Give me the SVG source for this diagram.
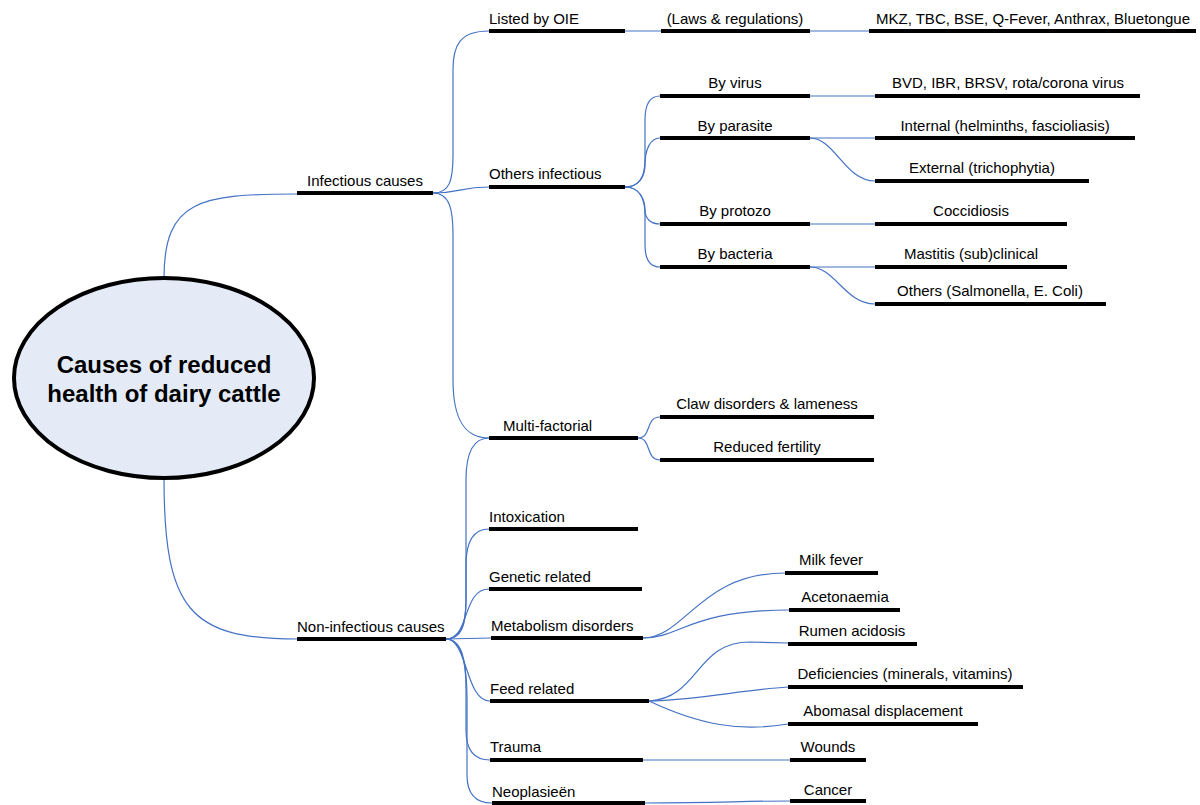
<svg xmlns="http://www.w3.org/2000/svg" width="1200" height="805" viewBox="0 0 1200 805">
<style>
.bar{stroke:#000;stroke-width:4;fill:none}
.t{font-family:"Liberation Sans",Arial,sans-serif;font-size:15px;fill:#000}
.m{text-anchor:middle}
.c{fill:none;stroke:#4472C4;stroke-width:1.2}
.title{font-family:"Liberation Sans",Arial,sans-serif;font-size:24px;font-weight:bold;text-anchor:middle;fill:#000}
</style>
<rect width="1200" height="805" fill="#fff"/>
<g id="connectors">
<path class="c" d="M164,278 C164,200 200,194 297,194"/>
<path class="c" d="M164,478 C164,610 190,639 297,639"/>
<path class="c" d="M433,193 C450,193 453,180 453,155 L453,70 C453,45 460,31 489,31"/>
<path class="c" d="M433,193 C460,193 460,187 489,187"/>
<path class="c" d="M433,193 C450,193 453,210 453,235 L453,380 C453,420 465,438 489,438"/>
<path class="c" d="M625,31 L661,31"/>
<path class="c" d="M810,31 L869,31"/>
<path class="c" d="M625,187 C640,187 645,175 645,160 L645,120 C645,105 650,96 660,96"/>
<path class="c" d="M625,187 C640,187 645,175 645,165 C645,150 650,138 660,138"/>
<path class="c" d="M625,187 C640,187 645,200 645,210 C645,218 650,224 660,224"/>
<path class="c" d="M625,187 C640,187 645,200 645,215 L645,245 C645,260 650,267 660,267"/>
<path class="c" d="M810,96 L875,96"/>
<path class="c" d="M810,138 L875,138"/>
<path class="c" d="M810,138 C835,138 845,181 875,181"/>
<path class="c" d="M810,224 L875,224"/>
<path class="c" d="M810,267 L875,267"/>
<path class="c" d="M810,267 C835,267 845,304 875,304"/>
<path class="c" d="M638,438 C652,438 645,417 660,417"/>
<path class="c" d="M638,438 C652,438 645,460 660,460"/>
<path class="c" d="M446,639 C462,639 466,625 466,600 L466,480 C466,455 472,438 489,438"/>
<path class="c" d="M446,639 C462,639 466,620 466,600 L466,565 C466,540 475,529 489,529"/>
<path class="c" d="M446,639 C470,639 462,589 489,589"/>
<path class="c" d="M446,639 C465,639 470,638 491,638"/>
<path class="c" d="M446,639 C468,639 465,701 490,701"/>
<path class="c" d="M446,639 C462,639 466,660 466,690 L466,730 C466,752 475,760 490,760"/>
<path class="c" d="M446,639 C462,639 467,665 467,700 L467,775 C467,795 477,803 492,803"/>
<path class="c" d="M643,638 C685,638 700,573 785,573"/>
<path class="c" d="M643,638 C680,638 690,610 789,610"/>
<path class="c" d="M649,701 C700,698 695,642 750,642 L788,643"/>
<path class="c" d="M649,701 C700,700 740,690 788,687"/>
<path class="c" d="M649,701 C700,725 740,732 788,724"/>
<path class="c" d="M643,760 L790,760"/>
<path class="c" d="M645,803 C720,803 740,801 790,801"/>
</g>
<g id="root">
<ellipse cx="164" cy="378" rx="150" ry="100" fill="#E4EBF6" stroke="#000" stroke-width="4"/>
<text class="title" x="164" y="373">Causes of reduced</text>
<text class="title" x="164" y="402">health of dairy cattle</text>
</g>
<g id="infectious"><line class="bar" x1="297" y1="193" x2="433" y2="193"/><text class="t m" x="365" y="186">Infectious causes</text></g>
<g id="listed-oie"><line class="bar" x1="489" y1="31" x2="625" y2="31"/><text class="t" x="489" y="24">Listed by OIE</text></g>
<g id="laws"><line class="bar" x1="661" y1="31" x2="810" y2="31"/><text class="t m" x="735" y="24">(Laws &amp; regulations)</text></g>
<g id="mkz"><line class="bar" x1="869" y1="31" x2="1196" y2="31"/><text class="t m" x="1033" y="24">MKZ, TBC, BSE, Q-Fever, Anthrax, Bluetongue</text></g>
<g id="others-infectious"><line class="bar" x1="489" y1="187" x2="625" y2="187"/><text class="t" x="489" y="179">Others infectious</text></g>
<g id="by-virus"><line class="bar" x1="660" y1="96" x2="810" y2="96"/><text class="t m" x="735" y="88">By virus</text></g>
<g id="bvd"><line class="bar" x1="875" y1="96" x2="1140" y2="96"/><text class="t m" x="1008" y="88">BVD, IBR, BRSV, rota/corona virus</text></g>
<g id="by-parasite"><line class="bar" x1="660" y1="138" x2="810" y2="138"/><text class="t m" x="735" y="131">By parasite</text></g>
<g id="internal"><line class="bar" x1="875" y1="138" x2="1135" y2="138"/><text class="t m" x="1005" y="131">Internal (helminths, fascioliasis)</text></g>
<g id="external"><line class="bar" x1="875" y1="181" x2="1089" y2="181"/><text class="t m" x="982" y="173">External (trichophytia)</text></g>
<g id="by-protozo"><line class="bar" x1="660" y1="224" x2="810" y2="224"/><text class="t m" x="735" y="216">By protozo</text></g>
<g id="coccidiosis"><line class="bar" x1="875" y1="224" x2="1067" y2="224"/><text class="t m" x="971" y="216">Coccidiosis</text></g>
<g id="by-bacteria"><line class="bar" x1="660" y1="267" x2="810" y2="267"/><text class="t m" x="735" y="259">By bacteria</text></g>
<g id="mastitis"><line class="bar" x1="875" y1="267" x2="1067" y2="267"/><text class="t m" x="971" y="259">Mastitis (sub)clinical</text></g>
<g id="others-salmonella"><line class="bar" x1="875" y1="304" x2="1106" y2="304"/><text class="t m" x="990" y="296">Others (Salmonella, E. Coli)</text></g>
<g id="multi-factorial"><line class="bar" x1="489" y1="438" x2="638" y2="438"/><text class="t" x="503" y="431">Multi-factorial</text></g>
<g id="claw"><line class="bar" x1="660" y1="417" x2="874" y2="417"/><text class="t m" x="767" y="409">Claw disorders &amp; lameness</text></g>
<g id="fertility"><line class="bar" x1="660" y1="460" x2="874" y2="460"/><text class="t m" x="767" y="452">Reduced fertility</text></g>
<g id="non-infectious"><line class="bar" x1="297" y1="639" x2="446" y2="639"/><text class="t" x="297" y="632">Non-infectious causes</text></g>
<g id="intoxication"><line class="bar" x1="489" y1="529" x2="638" y2="529"/><text class="t" x="489" y="522">Intoxication</text></g>
<g id="genetic"><line class="bar" x1="489" y1="589" x2="642" y2="589"/><text class="t" x="489" y="582">Genetic related</text></g>
<g id="metabolism"><line class="bar" x1="491" y1="638" x2="643" y2="638"/><text class="t" x="491" y="631">Metabolism disorders</text></g>
<g id="milk-fever"><line class="bar" x1="785" y1="573" x2="878" y2="573"/><text class="t m" x="831" y="565">Milk fever</text></g>
<g id="acetonaemia"><line class="bar" x1="789" y1="610" x2="900" y2="610"/><text class="t m" x="845" y="602">Acetonaemia</text></g>
<g id="feed"><line class="bar" x1="490" y1="701" x2="649" y2="701"/><text class="t" x="490" y="694">Feed related</text></g>
<g id="rumen"><line class="bar" x1="788" y1="644" x2="917" y2="644"/><text class="t m" x="852" y="636">Rumen acidosis</text></g>
<g id="deficiencies"><line class="bar" x1="788" y1="687" x2="1023" y2="687"/><text class="t m" x="905" y="679">Deficiencies (minerals, vitamins)</text></g>
<g id="abomasal"><line class="bar" x1="788" y1="724" x2="978" y2="724"/><text class="t m" x="883" y="716">Abomasal displacement</text></g>
<g id="trauma"><line class="bar" x1="490" y1="760" x2="643" y2="760"/><text class="t" x="490" y="752">Trauma</text></g>
<g id="wounds"><line class="bar" x1="790" y1="760" x2="866" y2="760"/><text class="t m" x="828" y="752">Wounds</text></g>
<g id="neoplasieen"><line class="bar" x1="492" y1="803" x2="645" y2="803"/><text class="t" x="492" y="797">Neoplasieën</text></g>
<g id="cancer"><line class="bar" x1="790" y1="801" x2="866" y2="801"/><text class="t m" x="828" y="795">Cancer</text></g>
</svg>
